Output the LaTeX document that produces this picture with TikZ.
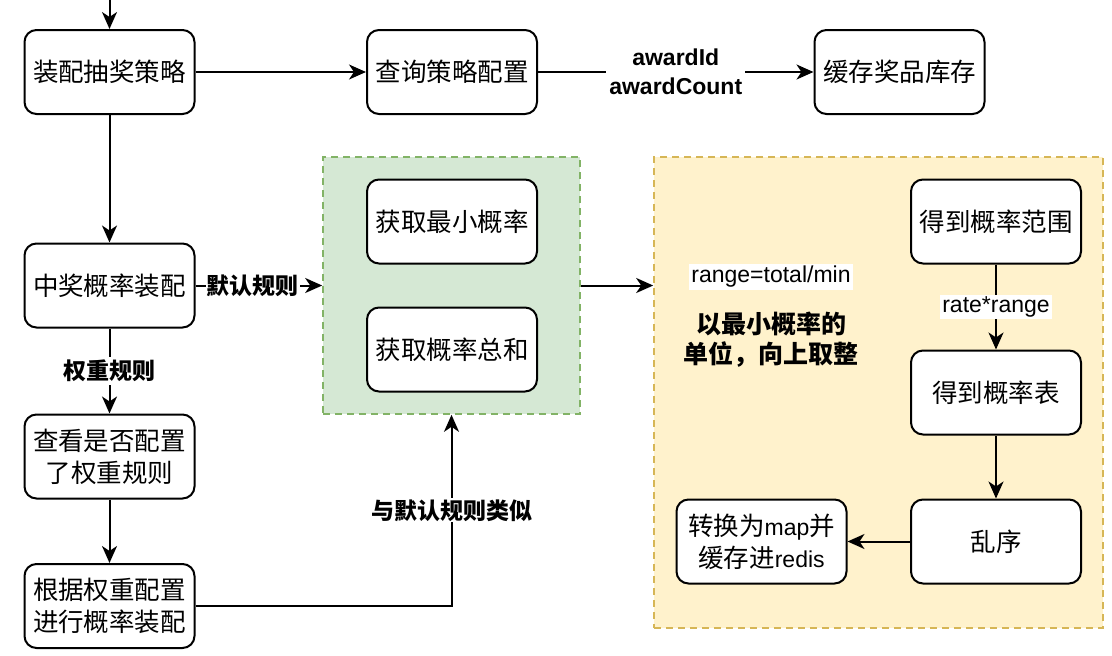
\documentclass[tikz,border=0pt]{standalone}
\usepackage{fontspec}
\setmainfont{Liberation Sans}
\newfontfamily\cjk{Noto Sans CJK SC}
\usetikzlibrary{arrows.meta}
\definecolor{gfill}{HTML}{D5E8D4}
\definecolor{gline}{HTML}{82B366}
\definecolor{yfill}{HTML}{FFF2CC}
\definecolor{yline}{HTML}{D6B656}
\newcommand\lat[1]{{\rmfamily\fontsize{23}{32}\selectfont #1}}
\tikzset{
  box/.style={draw, line width=2pt, rounded corners=12pt, fill=white,
    minimum width=170pt, minimum height=84pt, inner sep=0pt, align=center,
    font=\cjk\fontsize{25.5}{32}\selectfont},
  conn/.style={line width=2pt, -{Stealth[length=17pt,width=15pt,inset=5pt]}},
  lbl/.style={fill=white, inner sep=1pt, align=center,
    font=\cjk\bfseries\fontsize{23}{29}\selectfont},
  container/.style={draw, line width=1.6pt, dash pattern=on 7pt off 5pt, inner sep=0pt},
}
\begin{document}
\begin{tikzpicture}[x=1pt,y=-1pt]
\useasboundingbox (0,0) rectangle (1112,656);

% containers
\node[container, fill=gfill, draw=gline, minimum width=257pt, minimum height=257pt] (green) at (451.5,285.5) {};
\node[container, fill=yfill, draw=yline, minimum width=449pt, minimum height=471pt] (yellow) at (878.5,392.5) {};

% boxes
\node[box] (A) at (109.5,72) {装配抽奖策略};
\node[box] (B) at (452,72) {查询策略配置};
\node[box] (C) at (899.5,72) {缓存奖品库存};
\node[box] (D) at (109.5,285.5) {中奖概率装配};
\node[box] (E) at (452,221.5) {获取最小概率};
\node[box] (F) at (452,349.5) {获取概率总和};
\node[box] (G) at (109.5,456.5) {查看是否配置\\了权重规则};
\node[box] (H) at (109.5,606) {根据权重配置\\进行概率装配};
\node[box] (I) at (996,221.5) {得到概率范围};
\node[box] (J) at (996,392.5) {得到概率表};
\node[box] (K) at (996,541.5) {乱序};
\node[box] (L) at (761.5,541.5) {转换为\lat{map}并\\缓存进\lat{redis}};

% free texts
\node[fill=white, inner sep=2pt, font=\fontsize{23}{28}\selectfont] (rt) at (771,277) {range=total/min};
\node[align=center, font=\cjk\bfseries\fontsize{25}{30}\selectfont] (note) at (771,340) {以最小概率的\\单位，向上取整};

% connectors
\coordinate (top) at (109.5,0);
\draw[conn] (top) -- (A.north);
\draw[conn] (A.east) -- (B.west);
\draw[conn] (B.east) -- node[lbl, font=\bfseries\fontsize{23}{29}\selectfont, inner sep=3pt] {awardId\\awardCount} (C.west);
\draw[conn] (A.south) -- (D.north);
\draw[conn] (D.east) -- node[lbl, pos=0.45] {默认规则} (green.west);
\draw[conn] (D.south) -- node[lbl, inner sep=3pt] {权重规则} (G.north);
\draw[conn] (G.south) -- (H.north);
\draw[conn] (H.east) -| node[lbl, pos=0.75] {与默认规则类似} (green.south);
\draw[conn] (green.east) -- (green.east -| yellow.west);
\draw[conn] (I.south) -- node[fill=white, inner sep=2pt, font=\fontsize{23}{28}\selectfont] {rate*range} (J.north);
\draw[conn] (J.south) -- (K.north);
\draw[conn] (K.west) -- (L.east);
\end{tikzpicture}
\end{document}
